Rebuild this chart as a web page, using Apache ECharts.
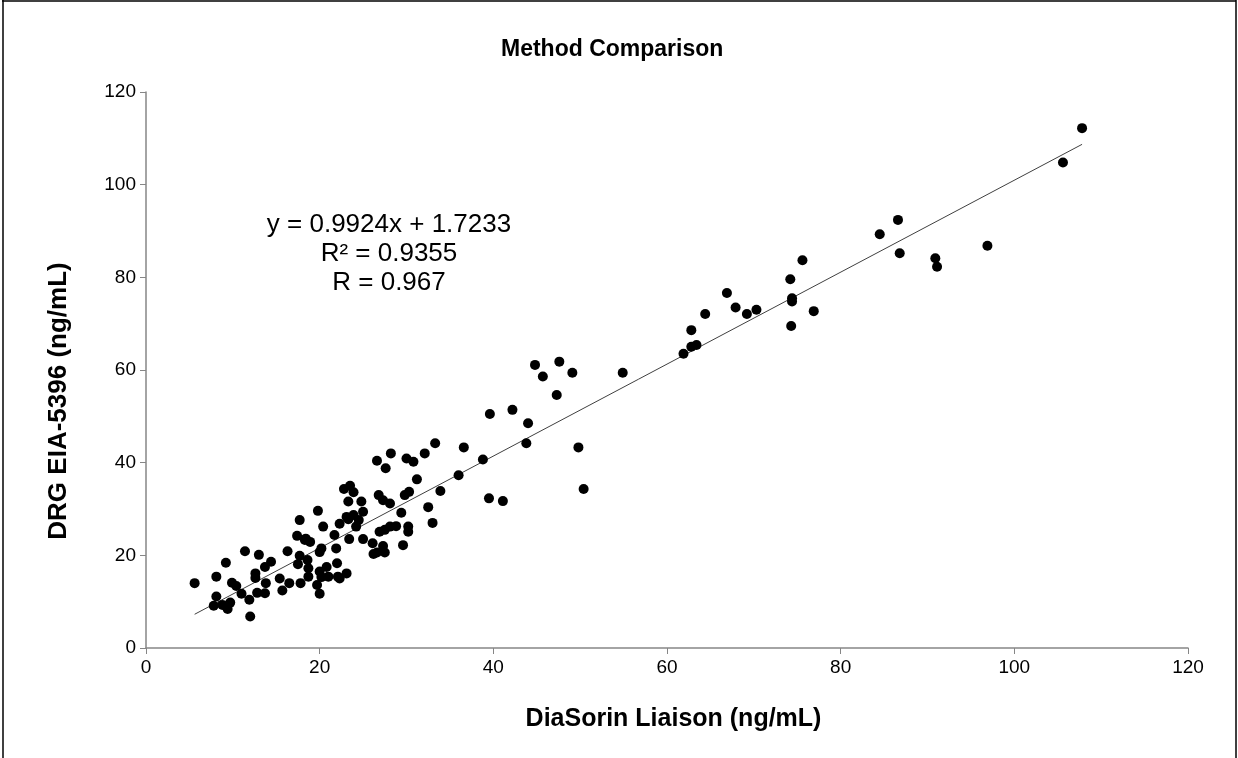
<!DOCTYPE html>
<html>
<head>
<meta charset="utf-8">
<script src="https://cdn.jsdelivr.net/npm/echarts@6/dist/echarts.min.js"></script>
<style>
html,body{margin:0;padding:0;background:#fff;}
#chart{width:1238px;height:758px;}
</style>
</head>
<body>
<div id="chart"></div>
<script>
const titleText = "Method Comparison";
const xAxisName = "DiaSorin Liaison (ng/mL)";
const yAxisName = "DRG EIA-5396 (ng/mL)";
const xTicks = [0, 20, 40, 60, 80, 100, 120];
const yTicks = [0, 20, 40, 60, 80, 100, 120];
const slope = 0.9924;
const intercept = 1.7233;
const annotationLines = ["y = 0.9924x + 1.7233", "R² = 0.9355", "R = 0.967"];

const liaison = [
  5.6, 8.1, 9.2, 8.1, 7.8, 8.8, 9.4, 9.7, 9.9, 10.4,
  11.0, 11.4, 12.0, 11.9, 12.6, 12.6, 13.0, 12.8, 13.7, 13.8,
  13.7, 14.4, 15.4, 15.7, 16.3, 16.5, 17.4, 17.7, 17.7, 17.8,
  17.5, 18.4, 18.9, 18.6, 18.7, 18.7, 19.8, 20.4, 20.0, 20.0,
  20.2, 20.0, 19.7, 20.8, 21.0, 21.7, 21.9, 22.0, 22.1, 22.3,
  22.8, 23.5, 23.9, 23.3, 24.8, 25.0, 23.1, 23.9, 24.5, 23.4,
  25.0, 26.1, 26.6, 26.2, 27.3, 27.5, 23.1, 22.3, 18.3, 26.8,
  27.3, 28.1, 30.3, 29.8, 29.4, 32.5, 28.8, 28.1, 30.2, 30.2,
  27.5, 26.9, 33.0, 29.6, 26.6, 27.6, 28.2, 30.0, 30.8, 32.1,
  33.3, 31.2, 33.9, 36.0, 36.6, 38.8, 39.6, 39.5, 41.1, 42.2,
  44.0, 43.8, 44.8, 45.7, 47.6, 49.1, 47.3, 49.8, 50.4, 54.9,
  61.9, 62.8, 63.4, 62.8, 64.4, 66.9, 67.9, 69.2, 70.3, 74.2,
  74.4, 74.4, 74.3, 75.6, 76.9, 84.5, 86.6, 86.8, 90.9, 91.1,
  96.9, 105.6, 107.8, 24.2, 20.2, 23.3
];
const drg = [
  14.0, 15.4, 18.4, 11.1, 9.1, 9.3, 8.4, 9.8, 14.1, 13.4,
  11.7, 20.9, 6.8, 10.4, 16.1, 15.1, 20.1, 11.9, 11.8, 14.0,
  17.5, 18.6, 15.0, 12.4, 20.9, 14.0, 24.2, 27.6, 19.9, 14.0,
  18.1, 23.6, 22.9, 19.0, 17.2, 15.4, 29.6, 26.2, 20.7, 16.5,
  15.3, 11.7, 13.6, 17.5, 15.4, 24.4, 21.5, 18.3, 15.4, 26.8,
  34.3, 35.0, 33.6, 31.6, 31.6, 29.4, 28.3, 28.7, 27.6, 23.5,
  23.5, 22.6, 20.6, 20.3, 22.0, 20.6, 16.1, 15.0, 23.3, 33.0,
  31.9, 31.2, 33.7, 33.0, 29.2, 30.4, 26.3, 26.2, 26.2, 25.1,
  25.5, 25.1, 27.0, 22.2, 40.4, 38.8, 42.0, 40.9, 40.2, 42.0,
  44.2, 36.4, 33.9, 37.3, 43.3, 40.7, 50.5, 32.3, 31.7, 51.4,
  48.5, 44.2, 61.1, 58.6, 61.8, 59.4, 54.6, 43.3, 34.3, 59.4,
  63.5, 65.0, 65.4, 68.6, 72.1, 76.6, 73.5, 72.1, 73.0, 79.6,
  75.5, 74.8, 69.5, 83.7, 72.7, 89.3, 92.4, 85.2, 84.1, 82.3,
  86.8, 104.8, 112.2, 26.2, 21.5, 27.8
];

const points = liaison.map((x, i) => [x, drg[i]]);
const xMin = Math.min(...liaison), xMax = Math.max(...liaison);
const trend = [[xMin, slope * xMin + intercept], [xMax, slope * xMax + intercept]];

const chart = echarts.init(document.getElementById('chart'), null, {renderer: 'canvas'});
const FONT = 'Liberation Sans, Arial, sans-serif';
chart.setOption({
  animation: false,
  backgroundColor: '#ffffff',
  title: {
    text: titleText, left: 496, top: 33,
    textStyle: {fontFamily: FONT, fontWeight: 'bold', fontSize: 23, color: '#000'}
  },
  grid: {left: 146, right: 50, top: 92, bottom: 110},
  xAxis: {
    type: 'value', min: xTicks[0], max: xTicks[xTicks.length - 1], interval: 20,
    name: xAxisName, nameLocation: 'middle', nameGap: 59,
    nameTextStyle: {fontFamily: FONT, fontWeight: 'bold', fontSize: 25, color: '#000', padding: [0, 0, 0, 13]},
    axisLine: {show: true, lineStyle: {color: '#868686', width: 1.5}},
    axisTick: {show: true, length: 6, lineStyle: {color: '#868686'}},
    axisLabel: {fontFamily: FONT, fontSize: 19, color: '#000', margin: 10},
    splitLine: {show: false}
  },
  yAxis: {
    type: 'value', min: yTicks[0], max: yTicks[yTicks.length - 1], interval: 20,
    axisLine: {show: true, lineStyle: {color: '#868686', width: 1.5}},
    axisTick: {show: true, length: 6, lineStyle: {color: '#868686'}},
    axisLabel: {fontFamily: FONT, fontSize: 19, color: '#000', margin: 10},
    splitLine: {show: false}
  },
  graphic: [
    {type: 'line', shape: {x1: 2, y1: 1, x2: 1236, y2: 1}, style: {stroke: '#000', lineWidth: 1.5}},
    {type: 'line', shape: {x1: 3, y1: 0, x2: 3, y2: 758}, style: {stroke: '#000', lineWidth: 1.5}},
    {type: 'line', shape: {x1: 1236, y1: 0, x2: 1236, y2: 758}, style: {stroke: '#000', lineWidth: 1.5}},
    {type: 'text', x: 59, y: 401, rotation: Math.PI / 2,
      style: {text: yAxisName, fontFamily: FONT, fontWeight: 'bold', fontSize: 26, fill: '#000', align: 'center', verticalAlign: 'middle'}},
    {type: 'text', x: 389, y: 225, style: {text: annotationLines[0], fontFamily: FONT, fontSize: 26, fill: '#000', align: 'center', verticalAlign: 'middle'}},
    {type: 'text', x: 389, y: 254, style: {text: annotationLines[1], fontFamily: FONT, fontSize: 26, fill: '#000', align: 'center', verticalAlign: 'middle'}},
    {type: 'text', x: 389, y: 283, style: {text: annotationLines[2], fontFamily: FONT, fontSize: 26, fill: '#000', align: 'center', verticalAlign: 'middle'}}
  ],
  series: [
    {
      type: 'line', data: trend, symbol: 'none', silent: true, z: 1,
      lineStyle: {color: '#404040', width: 1}
    },
    {
      type: 'scatter', data: points, symbol: 'circle', symbolSize: 10, z: 2,
      itemStyle: {color: '#000', opacity: 1}
    }
  ]
});
</script>
</body>
</html>
